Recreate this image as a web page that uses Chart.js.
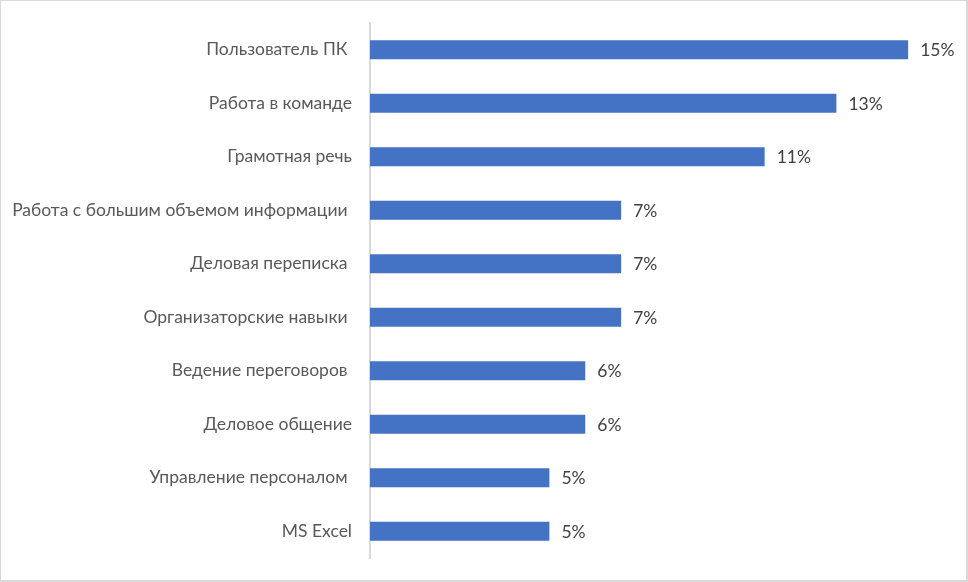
<!DOCTYPE html>
<html>
<head>
<meta charset="utf-8">
<script src="https://cdn.jsdelivr.net/npm/chart.js@4"></script>
<style>
html,body{margin:0;padding:0;background:#fff;}
#wrap{position:absolute;left:0;top:0;border-right:2px solid #d9d9d9;border-bottom:2px solid #d9d9d9;border-left:1px solid #d9d9d9;border-top:1px solid #d9d9d9;box-sizing:border-box;width:968px;height:582px;}
canvas{display:block;}
</style>
</head>
<body>
<div id="wrap"><canvas id="c"></canvas></div>
<script>
const categories = [
  "Пользователь ПК ",
  "Работа в команде",
  "Грамотная речь",
  "Работа с большим объемом информации ",
  "Деловая переписка ",
  "Организаторские навыки ",
  "Ведение переговоров ",
  "Деловое общение",
  "Управление персоналом ",
  "MS Excel"
];
const values = [15, 13, 11, 7, 7, 7, 6, 6, 5, 5];
const valueLabels = ["15%", "13%", "11%", "7%", "7%", "7%", "6%", "6%", "5%", "5%"];

const FONT = "Lato, 'Open Sans', sans-serif";

const labelPlugin = {
  id: 'valueLabels',
  afterDatasetsDraw(chart) {
    const ctx = chart.ctx;
    const meta = chart.getDatasetMeta(0);
    ctx.save();
    ctx.font = "17.5px " + FONT;
    ctx.fillStyle = "#404040";
    ctx.textAlign = "left";
    ctx.textBaseline = "middle";
    meta.data.forEach((bar, i) => {
      ctx.fillText(valueLabels[i], bar.x + 12, bar.y + 1);
    });
    ctx.restore();
  }
};

const canvas = document.getElementById('c');
canvas.width = 965; canvas.height = 579;
new Chart(canvas, {
  type: 'bar',
  data: {
    labels: categories,
    datasets: [{
      data: values,
      backgroundColor: '#4472C4',
      borderWidth: 0,
      barPercentage: 0.355,
      categoryPercentage: 1.0
    }]
  },
  options: {
    indexAxis: 'y',
    responsive: false,
    animation: false,
    devicePixelRatio: 1,
    layout: { padding: { left: 0, right: 22, top: 22, bottom: 22 } },
    plugins: { legend: { display: false }, tooltip: { enabled: false } },
    scales: {
      x: {
        display: false,
        min: 0,
        max: 16,
        grid: { display: false }
      },
      y: {
        afterFit(scale) { scale.width = 369; scale.paddingTop = 0; scale.paddingBottom = 0; },
        grid: { display: false, drawTicks: false },
        border: { display: true, color: '#d9d9d9', width: 2 },
        ticks: {
          color: '#595959',
          font: { family: FONT, size: 17.5 },
          padding: 18
        }
      }
    }
  },
  plugins: [labelPlugin]
});
</script>
</body>
</html>
